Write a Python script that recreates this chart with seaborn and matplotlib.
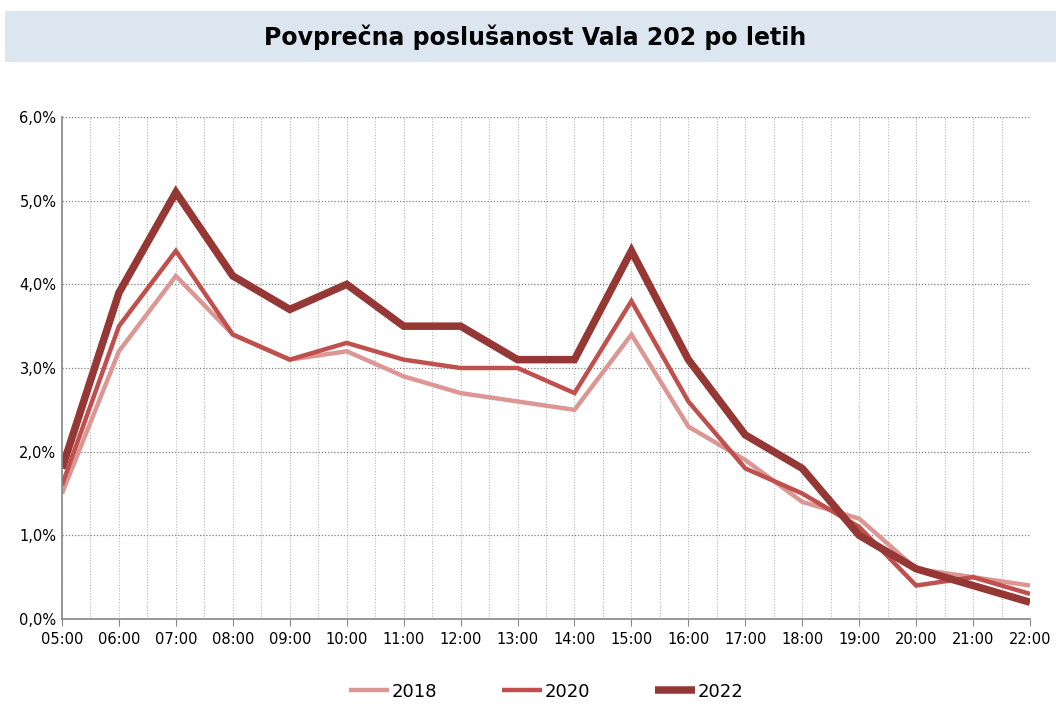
import matplotlib
matplotlib.use("Agg")
import matplotlib.pyplot as plt
from matplotlib.patches import Rectangle
from matplotlib.ticker import FuncFormatter, MultipleLocator
import pandas as pd
import seaborn as sns

hours = list(range(5, 23))
hour_labels = [f"{h:02d}:00" for h in hours]

years = ["2018", "2020", "2022"]
share_2018 = [1.5, 3.2, 4.1, 3.4, 3.1, 3.2, 2.9, 2.7, 2.6, 2.5, 3.4, 2.3, 1.9, 1.4, 1.2, 0.6, 0.5, 0.4]
share_2020 = [1.6, 3.5, 4.4, 3.4, 3.1, 3.3, 3.1, 3.0, 3.0, 2.7, 3.8, 2.6, 1.8, 1.5, 1.1, 0.4, 0.5, 0.3]
share_2022 = [1.8, 3.9, 5.1, 4.1, 3.7, 4.0, 3.5, 3.5, 3.1, 3.1, 4.4, 3.1, 2.2, 1.8, 1.0, 0.6, 0.4, 0.2]

colors = {"2018": "#dc9694", "2020": "#c0504d", "2022": "#953735"}
widths = {"2018": 3.2, "2020": 3.2, "2022": 5.4}

df = pd.DataFrame({
    "ura": hours * 3,
    "delez": share_2018 + share_2020 + share_2022,
    "leto": [y for y in years for _ in hours],
})

sns.set_style("white")
plt.rcParams["font.family"] = ["DejaVu Sans"]
plt.rcParams["text.color"] = "black"
plt.rcParams["xtick.labelcolor"] = "black"
plt.rcParams["ytick.labelcolor"] = "black"

fig = plt.figure(figsize=(10.56, 7.04), dpi=100)
ax = fig.add_axes([62 / 1056, 1 - 619 / 704, 968 / 1056, 502 / 704])

for y in years:
    sns.lineplot(data=df[df["leto"] == y], x="ura", y="delez", color=colors[y],
                 linewidth=widths[y], label=y, ax=ax, solid_joinstyle="miter",
                 solid_capstyle="butt")

ax.set_xlim(5, 22)
ax.set_ylim(0, 6)
ax.set_xticks(hours)
ax.set_xticklabels(hour_labels)
ax.xaxis.set_minor_locator(MultipleLocator(0.5))
ax.yaxis.set_major_locator(MultipleLocator(1))
ax.yaxis.set_major_formatter(FuncFormatter(lambda v, p: f"{v:.1f}%".replace(".", ",")))
ax.set_xlabel("")
ax.set_ylabel("")

ax.grid(which="major", axis="y", color="#808080", linestyle=(0, (1, 1.5)), linewidth=0.9)
ax.grid(which="both", axis="x", color="#b8b8b8", linestyle=(0, (1, 1.5)), linewidth=0.8)
ax.set_axisbelow(True)

for s in ["top", "right"]:
    ax.spines[s].set_visible(False)
for s in ["left", "bottom"]:
    ax.spines[s].set_color("#868686")
    ax.spines[s].set_linewidth(1.2)

ax.tick_params(axis="x", which="major", direction="out", length=5, color="#868686",
               labelsize=10.5, pad=4, bottom=True)
ax.tick_params(axis="x", which="minor", length=0)
ax.tick_params(axis="y", length=0, labelsize=10.5, pad=4, left=False)

leg = ax.legend(loc="center", bbox_to_anchor=(0.5, -0.145), ncol=3, frameon=False,
                fontsize=13, handlelength=2.2, handletextpad=0.15, columnspacing=3.6)

# title box
fig.patches.append(Rectangle((5 / 1056, 1 - 62 / 704), 1051 / 1056, 51 / 704,
                             transform=fig.transFigure, facecolor="#dce6f0",
                             edgecolor="none", zorder=0))
fig.text(535 / 1056, 1 - 37 / 704, "Povprečna poslušanost Vala 202 po letih",
         ha="center", va="center", fontsize=17, fontweight="bold", color="black")

fig.savefig("out.png", dpi=100)
